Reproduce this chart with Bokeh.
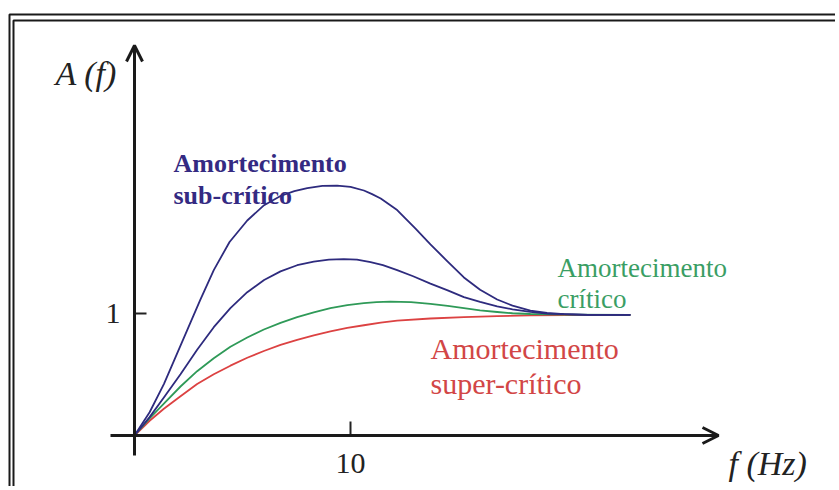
from bokeh.plotting import figure
from bokeh.models import (LinearAxis, FixedTicker, Arrow, OpenHead, Label, Range1d)
from bokeh.embed import file_html
from bokeh.resources import INLINE

# ---- data (frequency in Hz, amplitude) ----
f_sub_strong = [0, 0.7, 1.36, 1.9, 2.44, 3.05, 3.67, 4.4, 5.22, 6.0, 6.76, 7.4, 8.0,
                8.7, 9.38, 10.0, 10.62, 11.0, 11.4, 12.16, 13.0, 13.70, 14.5, 15.25,
                16.0, 16.79, 17.5, 18.33, 19.1, 19.88, 21.0, 22.96]
a_sub_strong = [0, 0.19, 0.42, 0.64, 0.86, 1.11, 1.35, 1.58, 1.755, 1.88, 1.955, 1.995,
                2.02, 2.037, 2.04, 2.03, 2.0, 1.97, 1.935, 1.84, 1.69, 1.56, 1.42, 1.29,
                1.19, 1.11, 1.06, 1.02, 1.0, 0.99, 0.985, 0.985]

f_sub_weak = [0, 0.7, 1.36, 2.13, 2.9, 3.67, 4.44, 5.22, 6.0, 6.76, 7.53, 8.30,
              9.0, 9.69, 10.3, 10.93, 11.5, 12.16, 12.9, 13.70, 14.5, 15.25, 16.0,
              16.79, 17.5, 18.33, 19.1, 19.88, 21.0, 22.96]
a_sub_weak = [0, 0.15, 0.31, 0.50, 0.70, 0.884, 1.04, 1.17, 1.27, 1.34, 1.39, 1.42,
              1.435, 1.44, 1.435, 1.415, 1.39, 1.35, 1.30, 1.24, 1.185, 1.13, 1.09,
              1.055, 1.03, 1.01, 0.995, 0.99, 0.985, 0.985]

f_crit = [0, 0.7, 1.36, 2.13, 2.90, 3.67, 4.44, 5.22, 5.99, 6.76, 7.53, 8.3, 9.07,
          9.85, 10.62, 11.2, 11.85, 12.8, 13.70, 14.5, 15.25, 16.0, 16.79, 17.5,
          18.33, 20.0, 22.96]
a_crit = [0, 0.14, 0.26, 0.40, 0.525, 0.63, 0.725, 0.80, 0.865, 0.92, 0.966, 1.005,
          1.04, 1.065, 1.08, 1.089, 1.093, 1.088, 1.075, 1.058, 1.04, 1.022, 1.008,
          0.998, 0.992, 0.987, 0.985]

f_super = [0, 0.7, 1.36, 2.13, 2.90, 3.67, 4.44, 5.22, 5.99, 6.76, 7.53, 8.3, 9.07,
           9.85, 10.62, 11.4, 12.16, 13.70, 15.25, 16.79, 18.33, 20.0, 22.96]
a_super = [0, 0.12, 0.218, 0.32, 0.42, 0.50, 0.57, 0.635, 0.69, 0.74, 0.78, 0.818,
           0.85, 0.878, 0.90, 0.922, 0.938, 0.955, 0.966, 0.975, 0.98, 0.983, 0.985]

x_ticks = [10]
y_ticks = [1]
x_label = "f (Hz)"
y_label = "A (f)"
label_sub = ["Amortecimento", "sub-crítico"]
label_crit = ["Amortecimento", "crítico"]
label_super = ["Amortecimento", "super-crítico"]

BLUE = "#2e2b7e"
BLUE_TXT = "#342a82"
GREEN = "#2f9a58"
GREEN_TXT = "#3a9e64"
RED = "#dc4242"
RED_TXT = "#d24646"
INK = "#1a1a1a"
SERIF = "Liberation Serif"

W, H = 835, 486
# page-pixel -> data helpers (placement only)
X0, XS = 134.0, 21.6
Y0, YS = 435.0, 122.5
def dx(px):
    return (px - X0) / XS
def dy(py):
    return (Y0 - py) / YS

p = figure(width=W, height=H, output_backend="svg", toolbar_location=None,
           x_axis_type=None, y_axis_type=None,
           x_range=Range1d(dx(0), dx(W)), y_range=Range1d(dy(H), dy(0)),
           min_border=0)
p.outline_line_color = None
p.xgrid.visible = False
p.ygrid.visible = False
p.background_fill_color = "white"

# double frame (left and top edges visible, the rest runs off the picture)
frame_xs = [[dx(9), dx(9), dx(W + 20)], [dx(13), dx(13), dx(W + 20)]]
frame_ys = [[dy(H + 20), dy(14), dy(14)], [dy(H + 20), dy(20), dy(20)]]
p.multi_line(frame_xs, frame_ys, line_color=INK, line_width=2)

# curves
p.line(f_super, a_super, line_color=RED, line_width=1.8, line_join="round")
p.line(f_crit, a_crit, line_color=GREEN, line_width=1.8, line_join="round")
p.line(f_sub_weak, a_sub_weak, line_color=BLUE, line_width=1.8, line_join="round")
p.line(f_sub_strong, a_sub_strong, line_color=BLUE, line_width=1.8, line_join="round")

# axes (ticks and tick labels)
xa = LinearAxis(fixed_location=0, ticker=FixedTicker(ticks=x_ticks),
                axis_line_color=None, major_tick_in=14, major_tick_out=0,
                minor_tick_line_color=None, major_tick_line_width=2,
                major_tick_line_color="#222222",
                major_label_text_font=SERIF, major_label_text_font_size="30px",
                major_label_text_color="#222222", major_label_standoff=18)
p.add_layout(xa, "below")
ya = LinearAxis(fixed_location=0, ticker=FixedTicker(ticks=y_ticks),
                axis_line_color=None, major_tick_in=12, major_tick_out=0,
                minor_tick_line_color=None, major_tick_line_width=2,
                major_tick_line_color="#222222",
                major_label_text_font=SERIF, major_label_text_font_size="30px",
                major_label_text_color="#222222", major_label_standoff=14)
p.add_layout(ya, "left")

# axis lines with arrow heads
p.add_layout(Arrow(end=OpenHead(size=16, line_width=3, line_color=INK),
                   x_start=dx(110), y_start=0, x_end=dx(718), y_end=0,
                   line_width=3, line_color=INK))
p.add_layout(Arrow(end=OpenHead(size=16, line_width=3, line_color=INK),
                   x_start=0, y_start=dy(455), x_end=0, y_end=dy(45),
                   line_width=3, line_color=INK))

# axis titles
p.add_layout(Label(x=dx(728), y=dy(463), text=x_label, text_font=SERIF,
                   text_font_style="italic", text_font_size="34px",
                   text_color="#222222", text_baseline="alphabetic"))
p.add_layout(Label(x=dx(55), y=dy(73), text=y_label, text_font=SERIF,
                   text_font_style="italic", text_font_size="34px",
                   text_color="#222222", text_baseline="alphabetic"))

# curve annotations
def two_lines(lines, px, py1, py2, color, size, style="normal"):
    for t, py in zip(lines, [py1, py2]):
        p.add_layout(Label(x=dx(px), y=dy(py), text=t, text_font=SERIF,
                           text_font_size=size, text_color=color,
                           text_font_style=style, text_baseline="alphabetic"))

two_lines(label_sub, 173, 163, 195, BLUE_TXT, "26px", "bold")
two_lines(label_crit, 557, 267, 298, GREEN_TXT, "27px")
two_lines(label_super, 430, 348, 383, RED_TXT, "30px")

open("out.html", "w").write(file_html(p, INLINE))
